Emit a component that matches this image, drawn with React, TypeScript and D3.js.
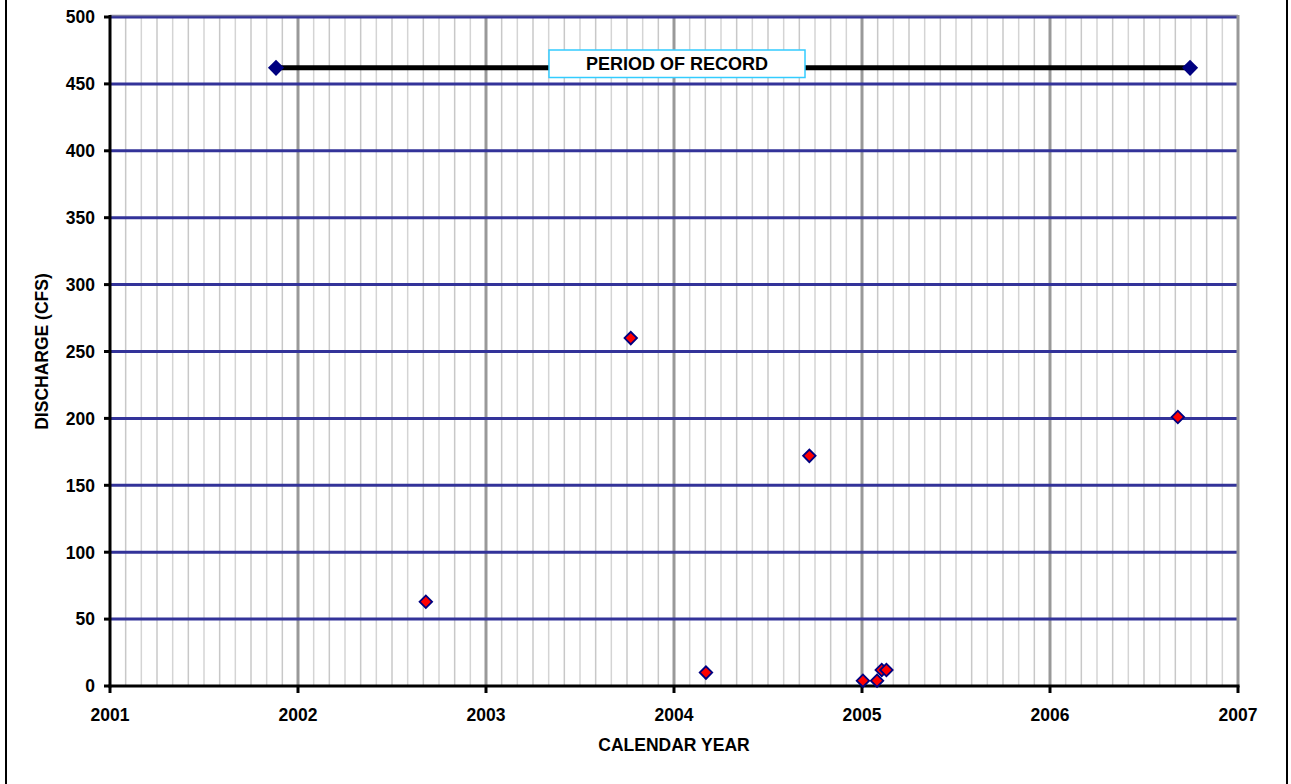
import React from "react";
import * as d3 from "d3";

const sampleYears: number[] = [2002.68, 2003.77, 2004.17, 2004.72, 2005.005, 2005.08, 2005.105, 2005.13, 2006.68];
const sampleDischarge: number[] = [63, 260, 10, 172, 4, 4, 12, 12, 201];
const periodYears: number[] = [2001.883, 2006.745];
const periodLevel: number[] = [462, 462];
const xTicks: number[] = [2001, 2002, 2003, 2004, 2005, 2006, 2007];
const yTicks: number[] = [0, 50, 100, 150, 200, 250, 300, 350, 400, 450, 500];

const W = 1291;
const H = 784;
const L = 110, R = 1238, T = 17, B = 686;

export default function App() {
  const x = d3.scaleLinear().domain([2001, 2007]).range([L, R]);
  const y = d3.scaleLinear().domain([0, 500]).range([B, T]);
  const months: number[] = [];
  for (let yr = 2001; yr < 2007; yr++) for (let m = 1; m < 12; m++) months.push(yr + m / 12);
  const small = d3.symbol().type(d3.symbolSquare).size(78)() as string;
  const big = d3.symbol().type(d3.symbolSquare).size(130)() as string;
  const line = d3.line<number>().x((d) => x(d)).y((_, i) => y(periodLevel[i]));
  const font = "Arial, 'Liberation Sans', sans-serif";
  return (
    <div style={{ position: "fixed", left: 0, top: 0 }}>
      <svg width={W} height={H} style={{ display: "block", background: "#fff" }} fontFamily={font}>
        <rect x={6} y={-2} width={1281} height={H + 4} fill="#fff" stroke="#000" strokeWidth={2} />
        {months.map((m, i) => (
          <line key={"m" + i} x1={x(m)} x2={x(m)} y1={T} y2={B} stroke={i % 2 ? "#d4d4d4" : "#c8c8c8"} strokeWidth={1.5} />
        ))}
        {xTicks.slice(1, -1).map((t) => (
          <line key={"yr" + t} x1={x(t)} x2={x(t)} y1={T} y2={B} stroke="#999" strokeWidth={3} />
        ))}
        {yTicks.slice(1).map((t) => (
          <line key={"h" + t} x1={L} x2={R} y1={y(t)} y2={y(t)} stroke="#333399" strokeWidth={3} />
        ))}
        <line x1={L} x2={R} y1={T - 1.5} y2={T - 1.5} stroke="#8080a0" strokeWidth={1.5} />
        <line x1={R} x2={R} y1={T - 2} y2={B} stroke="#999" strokeWidth={3} />
        <line x1={L} x2={L} y1={T - 2} y2={B + 1.5} stroke="#000" strokeWidth={3} />
        <line x1={L - 1.5} x2={R + 1.5} y1={B} y2={B} stroke="#000" strokeWidth={3} />
        {yTicks.map((t) => (
          <g key={"yt" + t}>
            <line x1={L - 6} x2={L} y1={y(t)} y2={y(t)} stroke="#000" strokeWidth={3} />
            <text x={L - 15} y={y(t)} dy="0.36em" textAnchor="end" fontSize={17.5} fontWeight="bold">{t}</text>
          </g>
        ))}
        {xTicks.map((t) => (
          <g key={"xt" + t}>
            <line x1={x(t)} x2={x(t)} y1={B} y2={B + 7} stroke="#000" strokeWidth={3} />
            <text x={x(t)} y={721} textAnchor="middle" fontSize={17.5} fontWeight="bold">{t}</text>
          </g>
        ))}
        <text x={(L + R) / 2} y={751} textAnchor="middle" fontSize={17.5} fontWeight="bold">CALENDAR YEAR</text>
        <text transform={`translate(48,${(T + B) / 2}) rotate(-90)`} textAnchor="middle" fontSize={17.5} fontWeight="bold">DISCHARGE (CFS)</text>
        <path d={line(periodYears) as string} fill="none" stroke="#000" strokeWidth={5} />
        {periodYears.map((p, i) => (
          <path key={"pe" + i} d={big} transform={`translate(${x(p)},${y(periodLevel[i])}) rotate(45)`} fill="#000080" />
        ))}
        <rect x={549} y={50} width={256} height={27.5} fill="#fff" stroke="#33ccff" strokeWidth={1.5} />
        <text x={677} y={64} dy="0.36em" textAnchor="middle" fontSize={18} fontWeight="bold">PERIOD OF RECORD</text>
        {sampleYears.map((s, i) => (
          <path key={"s" + i} d={small} transform={`translate(${x(s)},${y(sampleDischarge[i])}) rotate(45)`} fill="#ff0000" stroke="#000080" strokeWidth={1.8} />
        ))}
      </svg>
    </div>
  );
}
